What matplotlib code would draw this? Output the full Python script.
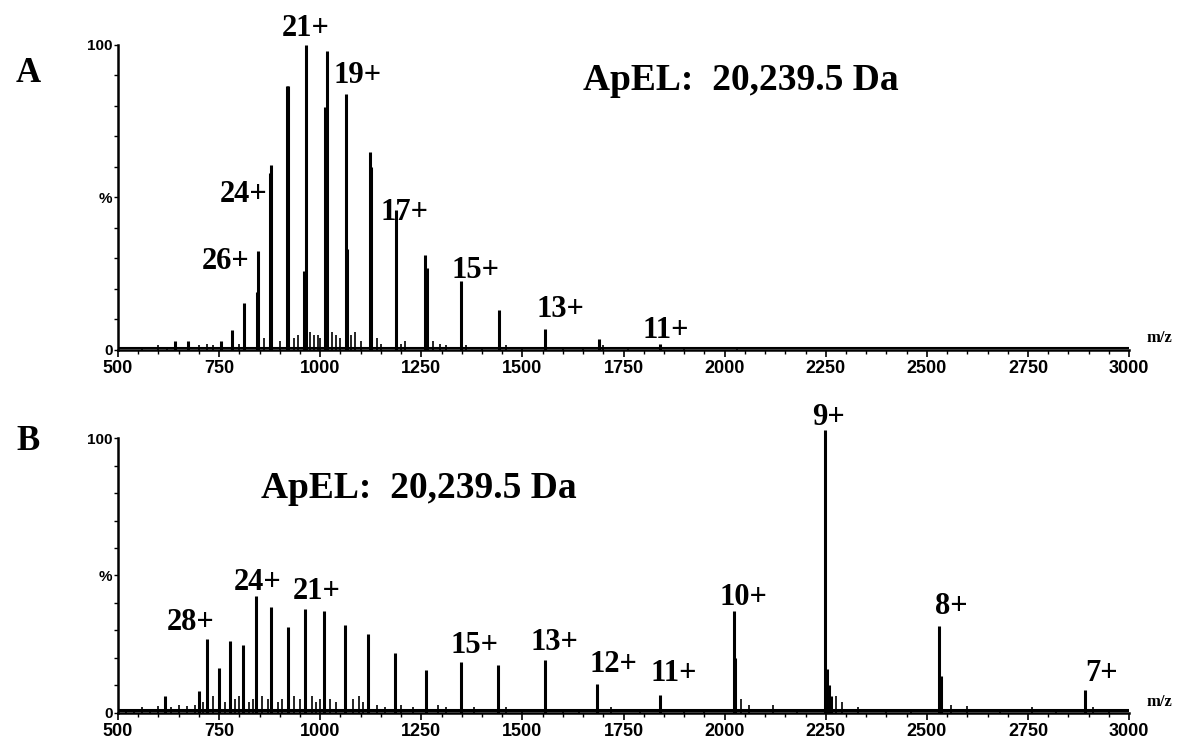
import matplotlib
matplotlib.use("Agg")
from matplotlib import pyplot as plt
from matplotlib.ticker import MultipleLocator, FixedLocator

# --- panel A: stick peaks (m/z, % relative intensity)
mz_a = [641, 672, 755, 781, 811, 843, 846, 877, 879, 918, 921, 960, 965,
        1012, 1016, 1064, 1067, 1122, 1125, 1188, 1259, 1263, 1349, 1443,
        1556, 1690, 1840]
int_a = [3, 3, 3, 6.6, 15.4, 19, 32.4, 58, 60.8, 86.5, 86.5, 26, 100,
         79.7, 98, 84, 33, 65, 60, 46, 31, 27, 22.5, 13,
         7, 3.5, 2]
noise_a_mz = [560, 600, 620, 700, 720, 735, 800, 860, 900, 935, 945, 975, 985,
              995, 1000, 1030, 1040, 1050, 1075, 1085, 1100, 1140, 1150, 1200,
              1210, 1280, 1295, 1310, 1360, 1400, 1460, 1500, 1600, 1650, 1700,
              1760, 1900, 2030]
noise_a_int = [1, 1.5, 1, 1.5, 2, 1.5, 2, 4, 3, 4, 5, 6, 5,
               5, 4, 6, 5, 4, 5, 6, 3, 4, 2, 2,
               3, 3, 2, 1.5, 1.5, 1, 1.5, 1, 1, 1, 1.5,
               0.8, 0.8, 0.8]

labels_a = ["21+", "19+", "24+", "17+", "26+", "15+", "13+", "11+"]
label_a_x = [963, 1092, 810, 1209, 765, 1385, 1595, 1855]
label_a_y = [105.5, 90, 51, 45, 29, 26, 13.4, 6.5]

# --- panel B
mz_b = [616, 700, 720, 749, 778, 810, 841, 878, 920, 963, 1009, 1061, 1119,
        1186, 1262, 1347, 1439, 1555, 1684, 1841, 2023, 2025, 2249, 2253,
        2258, 2264, 2531, 2535, 2891]
int_b = [6, 8, 27, 16.4, 26, 24.7, 42.6, 38.7, 31.4, 37.7, 37, 32, 28.8,
         21.9, 15.8, 18.5, 17.3, 19.2, 10.7, 6.7, 37, 20, 103, 16,
         10, 6, 31.5, 13.6, 8.5]
noise_b_mz = [520, 540, 560, 580, 600, 630, 650, 670, 690, 710, 735, 765, 790,
              800, 825, 835, 855, 870, 895, 905, 935, 950, 980, 990, 1000, 1025,
              1040, 1080, 1095, 1105, 1140, 1160, 1200, 1230, 1290, 1310, 1380,
              1460, 1500, 1600, 1640, 1720, 1790, 1900, 1950, 2040, 2060, 2120,
              2180, 2275, 2290, 2330, 2400, 2460, 2560, 2600, 2680, 2760, 2820,
              2910, 2950]
noise_b_int = [1.5, 1, 2, 1.5, 2.5, 2, 3, 2.5, 3, 4, 6, 4, 5,
               6, 4, 5, 6, 5, 4, 5, 6, 5, 6, 4, 5, 5,
               4, 5, 6, 4, 3, 2, 3, 2, 3, 2, 2,
               2, 1.5, 1.5, 1.5, 2, 1.5, 1.5, 1.5, 5, 3, 3,
               1.5, 6, 4, 2, 1.5, 1.5, 3, 2.5, 1.5, 2, 1.5,
               2, 1.5]

labels_b = ["9+", "24+", "21+", "28+", "10+", "8+", "15+", "13+", "12+",
            "11+", "7+"]
label_b_x = [2257, 846, 991, 680, 2047, 2561, 1381, 1578, 1724, 1875, 2931]
label_b_y = [104.7, 44.7, 41.5, 30.2, 39.3, 36, 21.8, 22.9, 14.9, 11.6, 11.6]

title_text = "ApEL:  20,239.5 Da"
xticks = [500, 750, 1000, 1250, 1500, 1750, 2000, 2250, 2500, 2750, 3000]

plt.rcParams["font.family"] = "Liberation Sans"
serif = "Liberation Serif"

fig = plt.figure(figsize=(11.86, 7.41), dpi=100)
ax_a = fig.add_axes([0.0995, 0.5277, 0.8525, 0.4116])
ax_b = fig.add_axes([0.0995, 0.0378, 0.8525, 0.3711])


def style_axis(ax):
    for spine in ["top", "right"]:
        ax.spines[spine].set_visible(False)
    for spine in ["left", "bottom"]:
        ax.spines[spine].set_linewidth(1.8)
    ax.set_xlim(500, 3000)
    ax.set_ylim(0, 100)
    ax.xaxis.set_major_locator(FixedLocator(xticks))
    ax.xaxis.set_minor_locator(MultipleLocator(50))
    ax.yaxis.set_major_locator(FixedLocator([0, 50, 100]))
    ax.yaxis.set_minor_locator(MultipleLocator(10))
    ax.set_yticklabels(["0", "%", "100"])
    ax.tick_params(axis="x", which="major", length=5, width=1.2, pad=2,
                   labelsize=13)
    ax.tick_params(axis="x", which="minor", length=3, width=1)
    ax.tick_params(axis="y", which="both", length=3, width=1, pad=1,
                   labelsize=11)
    for lab in ax.get_xticklabels() + ax.get_yticklabels():
        lab.set_fontweight("bold")
    ax.text(1.017, 0.012, "m/z", transform=ax.transAxes, family=serif,
            fontweight="bold", fontsize=12, ha="left", va="bottom")


# panel A
ax = ax_a
ax.vlines(noise_a_mz, 0, noise_a_int, color="k", lw=1.2)
ax.vlines(mz_a, 0, int_a, color="k", lw=2.2, clip_on=False)
ax.axhline(0.6, color="k", lw=1.5)
for lab, x, y in zip(labels_a, label_a_x, label_a_y):
    ax.text(x, y, lab, family=serif, fontweight="bold", fontsize=22,
            ha="center", va="center", clip_on=False)
ax.text(2041, 88.5, title_text, family=serif, fontweight="bold", fontsize=27,
        ha="center", va="center")
style_axis(ax)

# panel B
ax = ax_b
ax.vlines(noise_b_mz, 0, noise_b_int, color="k", lw=1.2)
ax.vlines(mz_b, 0, int_b, color="k", lw=2.2, clip_on=False)
ax.axhline(1.0, color="k", lw=2.2)
for lab, x, y in zip(labels_b, label_b_x, label_b_y):
    ax.text(x, y, lab, family=serif, fontweight="bold", fontsize=22,
            ha="center", va="baseline", clip_on=False)
ax.text(1245, 81.8, title_text, family=serif, fontweight="bold", fontsize=27,
        ha="center", va="center")
style_axis(ax)

fig.text(0.024, 1 - 73 / 741, "A", family=serif, fontweight="bold",
         fontsize=25, ha="center", va="center")
fig.text(0.024, 1 - 442 / 741, "B", family=serif, fontweight="bold",
         fontsize=25, ha="center", va="center")

fig.savefig("out.png", dpi=100)
